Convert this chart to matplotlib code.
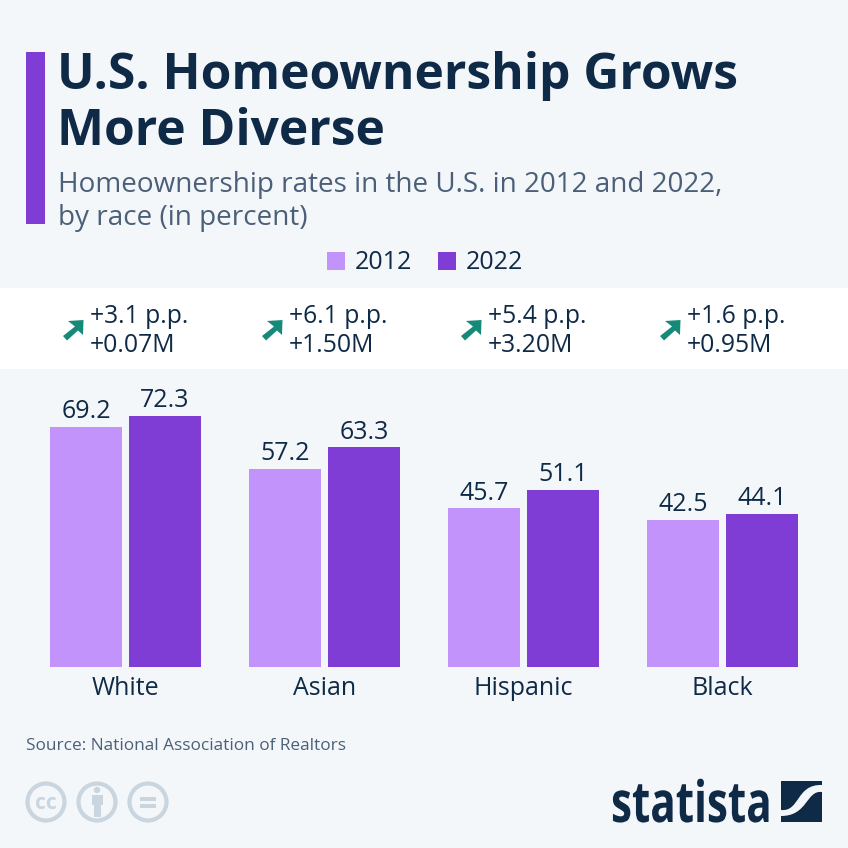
"""Homeownership rates by race, Statista style infographic."""

import matplotlib

matplotlib.use("Agg")

import matplotlib.pyplot as plt
import numpy as np
from matplotlib.patches import Circle, PathPatch, Polygon, Rectangle
from matplotlib.path import Path
from matplotlib.patheffects import AbstractPathEffect
from matplotlib.transforms import Affine2D

categories = ["White", "Asian", "Hispanic", "Black"]
rates_2012 = [69.2, 57.2, 45.7, 42.5]
rates_2022 = [72.3, 63.3, 51.1, 44.1]
change_pp = ["+3.1 p.p.", "+6.1 p.p.", "+5.4 p.p.", "+1.6 p.p."]
change_m = ["+0.07M", "+1.50M", "+3.20M", "+0.95M"]

BG = "#f4f7fa"
NAVY = "#0f2a47"
SLATE = "#4b6078"
LIGHT = "#c293fb"
DARK = "#7f3dd6"
TEAL = "#158a78"
ICON = "#c9d5df"
FONT = "Open Sans"

SIZE = 848


def px(size):
    # font size given in image pixels
    return size * 0.72


class SqueezeX(AbstractPathEffect):
    # narrows a text horizontally around x0 (display pixels), no condensed font here
    def __init__(self, x0, factor):
        super().__init__()
        self.x0 = x0
        self.factor = factor

    def draw_path(self, renderer, gc, tpath, affine, rgbFace=None):
        squeeze = Affine2D().translate(-self.x0, 0).scale(self.factor, 1).translate(self.x0, 0)
        renderer.draw_path(gc, tpath, affine + squeeze, rgbFace)


fig = plt.figure(figsize=(SIZE / 100, SIZE / 100), dpi=100, facecolor=BG)

# overlay in image pixels, y pointing down
over = fig.add_axes([0, 0, 1, 1], zorder=1)
over.set_xlim(0, SIZE)
over.set_ylim(SIZE, 0)
over.axis("off")

over.add_patch(Rectangle((0, 288), SIZE, 81, color="white", lw=0))
over.add_patch(Rectangle((26, 52), 19, 172, color=DARK, lw=0))


def label(x, y, s, size, color=NAVY, weight="normal", ha="left", **kw):
    return over.text(x, y, s, fontsize=px(size), color=color, fontweight=weight, ha=ha,
                     va="baseline", family=FONT, **kw)


label(57, 89, "U.S. Homeownership Grows", 49.7, weight="bold")
label(57, 145, "More Diverse", 49.7, weight="bold")
label(58, 192, "Homeownership rates in the U.S. in 2012 and 2022,", 27.9, color=SLATE)
label(58, 225, "by race (in percent)", 27.9, color=SLATE)

# legend
over.add_patch(Rectangle((327, 252), 18, 18, color=LIGHT, lw=0))
label(355, 269, "2012", 25)
over.add_patch(Rectangle((438, 252), 18, 18, color=DARK, lw=0))
label(466, 269, "2022", 25)

# bars
ax = fig.add_axes([26 / SIZE, (SIZE - 667) / SIZE, 796 / SIZE, 297 / SIZE], zorder=2)
ax.patch.set_alpha(0)
x = np.arange(len(categories))
bar_w = 72 / 199
shift = 39.5 / 199
bars_a = ax.bar(x - shift, rates_2012, bar_w, color=LIGHT)
bars_b = ax.bar(x + shift, rates_2022, bar_w, color=DARK)
for bars in (bars_a, bars_b):
    ax.bar_label(bars, fmt="%.1f", padding=2, fontsize=px(25), color=NAVY, family=FONT)
ax.set_xlim(-0.5, 3.5)
ax.set_ylim(0, 297 / 3.47)
ax.set_yticks([])
ax.set_xticks(x, categories, fontsize=px(25), color=NAVY, family=FONT)
ax.tick_params(axis="x", length=0, pad=6.5)
for side in ax.spines.values():
    side.set_visible(False)

# change row above the bars
arrow = np.array([(63, 336), (75, 326.5), (68, 321), (83.5, 320), (83, 335), (78, 330.5), (67, 340.5)])
for i in range(len(categories)):
    dx = 199 * i
    over.add_patch(Polygon(arrow + [dx, 0], closed=True, color=TEAL, lw=0))
    label(90 + dx, 323, change_pp[i], 24.8)
    label(90 + dx, 352, change_m[i], 24.8)

label(26, 750, "Source: National Association of Realtors", 17.2, color=SLATE)

# cc icons
for cx in (46, 97, 148):
    over.add_patch(Circle((cx, 802), 18.5, fc="none", ec=ICON, lw=3))
label(46, 809, "cc", 21, color=ICON, weight="bold", ha="center")
over.add_patch(Circle((97, 790), 3.2, color=ICON, lw=0))
over.add_patch(Rectangle((91.5, 795), 11, 10, color=ICON, lw=0))
over.add_patch(Rectangle((93.5, 805), 7, 12, color=ICON, lw=0))
over.add_patch(Rectangle((140, 796.5), 16, 4, color=ICON, lw=0))
over.add_patch(Rectangle((140, 803.5), 16, 4, color=ICON, lw=0))

# statista logo
logo = label(611, 822, "statista", 57, weight="bold")
logo.set_path_effects([SqueezeX(611, 0.74)])
over.add_patch(Rectangle((781, 781), 41, 41, color=NAVY, lw=0))
swoosh = Path(
    [(781, 810), (800, 812), (796, 784), (822, 785), (822, 792), (806, 790), (808, 816), (781, 816), (781, 810)],
    [Path.MOVETO, Path.CURVE4, Path.CURVE4, Path.CURVE4, Path.LINETO, Path.CURVE4, Path.CURVE4, Path.CURVE4, Path.CLOSEPOLY],
)
over.add_patch(PathPatch(swoosh, fc=BG, lw=0))

fig.savefig("out.png", dpi=100, facecolor=fig.get_facecolor())
